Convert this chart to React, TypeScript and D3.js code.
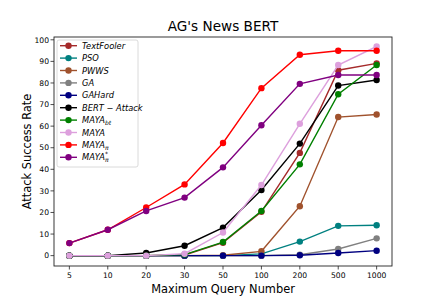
import * as d3 from "d3";

const queries = ["5", "10", "20", "30", "50", "100", "200", "500", "1000"];

const textFooler = [0, 0, 0, 0.3, 6.0, 20.3, 47.6, 85.9, 89.1];
const pso = [0, 0, 0, 0, 0, 0.8, 6.5, 13.8, 14.1];
const pwws = [0, 0, 0, 0, 0.2, 2.0, 22.9, 64.2, 65.4];
const ga = [0, 0, 0, 0, 0, 0, 0.4, 3.1, 8.0];
const gaHard = [0, 0, 0, 0, 0, 0, 0.2, 1.2, 2.3];
const bertAttack = [0, 0, 1.2, 4.6, 13.0, 30.4, 51.9, 78.8, 81.4];
const mayaBt = [0, 0, 0, 0.5, 6.3, 20.7, 42.3, 74.8, 88.3];
const maya = [0, 0, 0, 0.9, 10.7, 32.7, 61.1, 88.3, 96.9];
const mayaPi = [5.8, 12.0, 22.3, 33.0, 52.2, 77.6, 93.1, 94.9, 94.9];
const mayaPiStar = [5.8, 12.0, 20.7, 26.9, 40.9, 60.4, 79.6, 83.7, 83.7];

const yTicks = [0, 10, 20, 30, 40, 50, 60, 70, 80, 90, 100];

const series = [
  { key: "tf", name: "TextFooler", color: "#a52a2a", values: textFooler },
  { key: "pso", name: "PSO", color: "#008080", values: pso },
  { key: "pwws", name: "PWWS", color: "#a0522d", values: pwws },
  { key: "ga", name: "GA", color: "#808080", values: ga },
  { key: "gah", name: "GAHard", color: "#000080", values: gaHard },
  { key: "ba", name: "BERT \u2212 Attack", color: "#000000", values: bertAttack },
  { key: "bt", name: "MAYA", sub: "bt", color: "#008000", values: mayaBt },
  { key: "maya", name: "MAYA", color: "#dda0dd", values: maya },
  { key: "pi", name: "MAYA", sub: "\u03c0", color: "#ff0000", values: mayaPi },
  { key: "pis", name: "MAYA", sub: "\u03c0", sup: "*", color: "#800080", values: mayaPiStar },
];

const font = "DejaVu Sans, sans-serif";

export default function App() {
  const width = 436;
  const height = 300;
  const left = 54;
  const right = 392;
  const top = 37;
  const bottom = 266;

  const x = d3.scaleLinear().domain([-0.4, queries.length - 1 + 0.4]).range([left, right]);
  const y = d3.scaleLinear().domain([-4.8, 101.3]).range([bottom, top]);

  const line = d3
    .line<number>()
    .x((_, i) => x(i))
    .y((d) => y(d));

  const legendX = 57;
  const legendY = 40;
  const rowH = 12.4;

  return (
    <svg
      width={width}
      height={height}
      style={{ position: "absolute", left: 0, top: 0, background: "#fff" }}
      fontFamily={font}
    >
      <text x={(left + right) / 2} y={31} textAnchor="middle" fontSize={13.6} fill="#000">
        AG's News BERT
      </text>

      {series.map((s) => (
        <g key={s.key}>
          <path d={line(s.values) ?? ""} fill="none" stroke={s.color} strokeWidth={1.4} />
          {s.values.map((v, i) => (
            <circle key={i} cx={x(i)} cy={y(v)} r={3.2} fill={s.color} />
          ))}
        </g>
      ))}

      <rect x={left} y={top} width={right - left} height={bottom - top} fill="none" stroke="#222" strokeWidth={0.9} />

      {yTicks.map((t) => (
        <g key={t}>
          <line x1={left - 3.5} x2={left} y1={y(t)} y2={y(t)} stroke="#222" strokeWidth={0.8} />
          <text x={left - 5} y={y(t) + 2.7} textAnchor="end" fontSize={7.6} fill="#000">
            {t}
          </text>
        </g>
      ))}
      {queries.map((q, i) => (
        <g key={q}>
          <line x1={x(i)} x2={x(i)} y1={bottom} y2={bottom + 3.5} stroke="#222" strokeWidth={0.8} />
          <text x={x(i)} y={bottom + 12} textAnchor="middle" fontSize={7.6} fill="#000">
            {q}
          </text>
        </g>
      ))}

      <text x={(left + right) / 2} y={293} textAnchor="middle" fontSize={11.4} fill="#000">
        Maximum Query Number
      </text>
      <text
        transform={`translate(31, ${(top + bottom) / 2}) rotate(-90)`}
        textAnchor="middle"
        fontSize={11.4}
        fill="#000"
      >
        Attack Success Rate
      </text>

      <rect
        x={legendX}
        y={legendY}
        width={81}
        height={127}
        rx={2}
        fill="#fff"
        fillOpacity={0.8}
        stroke="#d0d0d0"
        strokeWidth={0.8}
      />
      {series.map((s, i) => {
        const cy = legendY + 5.7 + i * rowH;
        return (
          <g key={s.key}>
            <line x1={60} x2={77} y1={cy} y2={cy} stroke={s.color} strokeWidth={1.4} />
            <circle cx={68.5} cy={cy} r={3.2} fill={s.color} />
            <text x={82} y={cy + 3} fontSize={8.3} fontStyle="italic" fill="#000">
              {s.name}
              {s.sub && (
                <tspan fontSize={6} dy={2}>
                  {s.sub}
                </tspan>
              )}
              {s.sup && (
                <tspan fontSize={6} dx={-3.5} dy={-6}>
                  {s.sup}
                </tspan>
              )}
            </text>
          </g>
        );
      })}
    </svg>
  );
}
